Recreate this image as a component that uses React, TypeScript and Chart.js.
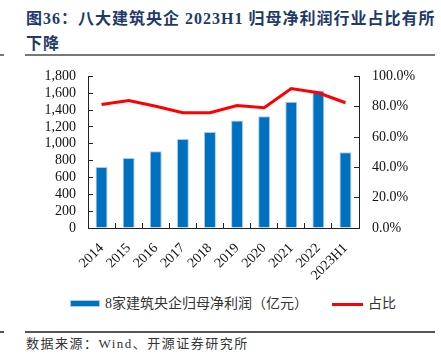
import React, { useEffect, useRef } from "react";
import { Chart, registerables } from "chart.js";

Chart.register(...registerables);

const categories = ["2014", "2015", "2016", "2017", "2018", "2019", "2020", "2021", "2022", "2023H1"];
const profitValues = [723, 831, 910, 1057, 1140, 1275, 1327, 1498, 1633, 898];
const shareValues = [0.815, 0.841, 0.803, 0.76, 0.76, 0.808, 0.793, 0.92, 0.892, 0.826];
const leftTicksMax = 1800;
const leftStep = 200;
const rightTicksMax = 1;
const rightStep = 0.2;

const titleLine1 = "图36：八大建筑央企 2023H1 归母净利润行业占比有所";
const titleLine2 = "下降";
const barLabel = "8家建筑央企归母净利润（亿元）";
const lineLabel = "占比";
const sourceText = "数据来源：Wind、开源证券研究所";

const BLUE = "#0070C0";
const RED = "#FF0000";
const AXIS = "#222222";
const tickFont = { family: "'Liberation Serif', 'Times New Roman', serif", size: 14 };

export default function App() {
  const canvasRef = useRef<HTMLCanvasElement | null>(null);

  useEffect(() => {
    if (!canvasRef.current) return;
    const chart = new Chart(canvasRef.current, {
      type: "bar",
      data: {
        labels: categories,
        datasets: [
          {
            type: "line",
            label: lineLabel,
            data: shareValues,
            yAxisID: "y1",
            borderColor: RED,
            backgroundColor: RED,
            borderWidth: 3,
            pointRadius: 0,
            tension: 0,
            order: 0,
          },
          {
            type: "bar",
            label: barLabel,
            data: profitValues,
            yAxisID: "y",
            backgroundColor: BLUE,
            borderColor: "#A9CBEA",
            borderWidth: 1,
            barPercentage: 0.44,
            categoryPercentage: 1,
            order: 1,
          },
        ],
      },
      options: {
        responsive: false,
        animation: false,
        layout: { padding: { top: 15, left: 0, right: 0, bottom: 0 } },
        plugins: { legend: { display: false }, tooltip: { enabled: false } },
        scales: {
          x: {
            offset: true,
            grid: { display: true, drawOnChartArea: false, offset: true, tickLength: -5, color: AXIS },
            border: { display: true, color: AXIS, width: 1 },
            ticks: {
              autoSkip: false,
              minRotation: 45,
              maxRotation: 45,
              padding: 17,
              color: "#111",
              font: tickFont,
            },
            afterFit: (s: any) => {
              s.height = 60;
            },
          },
          y: {
            position: "left",
            min: 0,
            max: leftTicksMax,
            ticks: {
              autoSkip: false,
              stepSize: leftStep,
              padding: 17,
              color: "#111",
              font: tickFont,
              callback: (v: any) => Number(v).toLocaleString("en-US"),
            },
            grid: { display: true, drawOnChartArea: false, tickLength: -5, color: AXIS },
            border: { display: true, color: AXIS, width: 1 },
            afterFit: (s: any) => {
              s.width = 88;
            },
          },
          y1: {
            position: "right",
            min: 0,
            max: rightTicksMax,
            ticks: {
              autoSkip: false,
              stepSize: rightStep,
              padding: 18,
              color: "#111",
              font: tickFont,
              callback: (v: any) => (Number(v) * 100).toFixed(1) + "%",
            },
            grid: { display: true, drawOnChartArea: false, tickLength: -5, color: AXIS },
            border: { display: true, color: AXIS, width: 1 },
            afterFit: (s: any) => {
              s.width = 82;
            },
          },
        },
      },
    });
    return () => chart.destroy();
  }, []);

  const cjk = "'Liberation Serif', 'Noto Sans CJK SC', serif";

  return (
    <div style={{ position: "fixed", left: 0, top: 0, width: 441, height: 362, background: "#fff", overflow: "hidden" }}>
      <div
        style={{
          position: "absolute",
          left: 26,
          top: 6,
          fontFamily: cjk,
          fontWeight: "bold",
          fontSize: 16,
          letterSpacing: 1,
          color: "#1F3A68",
          whiteSpace: "nowrap",
          lineHeight: "25px",
        }}
      >
        <div>{titleLine1}</div>
        <div>{titleLine2}</div>
      </div>
      <div style={{ position: "absolute", left: 25, top: 54, width: 410, height: 1.5, background: "#777" }} />
      <div style={{ position: "absolute", left: 0, top: 54, width: 4, height: 1.5, background: "#777" }} />

      <div style={{ position: "absolute", left: 0, top: 50, width: 441, height: 238 }}>
        <canvas ref={canvasRef} width={441} height={238} style={{ width: 441, height: 238, display: "block" }} />
      </div>

      <div style={{ position: "absolute", left: 70, top: 300, width: 30, height: 7, background: BLUE, boxShadow: "inset 0 0 0 1px #A9CBEA" }} />
      <div
        style={{
          position: "absolute",
          left: 105,
          top: 294,
          fontFamily: cjk,
          fontSize: 14,
          color: "#333",
          whiteSpace: "nowrap",
          lineHeight: "20px",
        }}
      >
        {barLabel}
      </div>
      <div style={{ position: "absolute", left: 332, top: 302.5, width: 31, height: 3, background: RED }} />
      <div
        style={{
          position: "absolute",
          left: 368,
          top: 294,
          fontFamily: cjk,
          fontSize: 14,
          color: "#333",
          whiteSpace: "nowrap",
          lineHeight: "20px",
        }}
      >
        {lineLabel}
      </div>

      <div style={{ position: "absolute", left: 25, top: 331, width: 410, height: 1.5, background: "#555" }} />
      <div style={{ position: "absolute", left: 0, top: 331, width: 4, height: 1.5, background: "#555" }} />
      <div
        style={{
          position: "absolute",
          left: 26,
          top: 335,
          fontFamily: cjk,
          fontSize: 13,
          letterSpacing: 1.5,
          color: "#333",
          whiteSpace: "nowrap",
          lineHeight: "18px",
        }}
      >
        {sourceText}
      </div>
    </div>
  );
}
